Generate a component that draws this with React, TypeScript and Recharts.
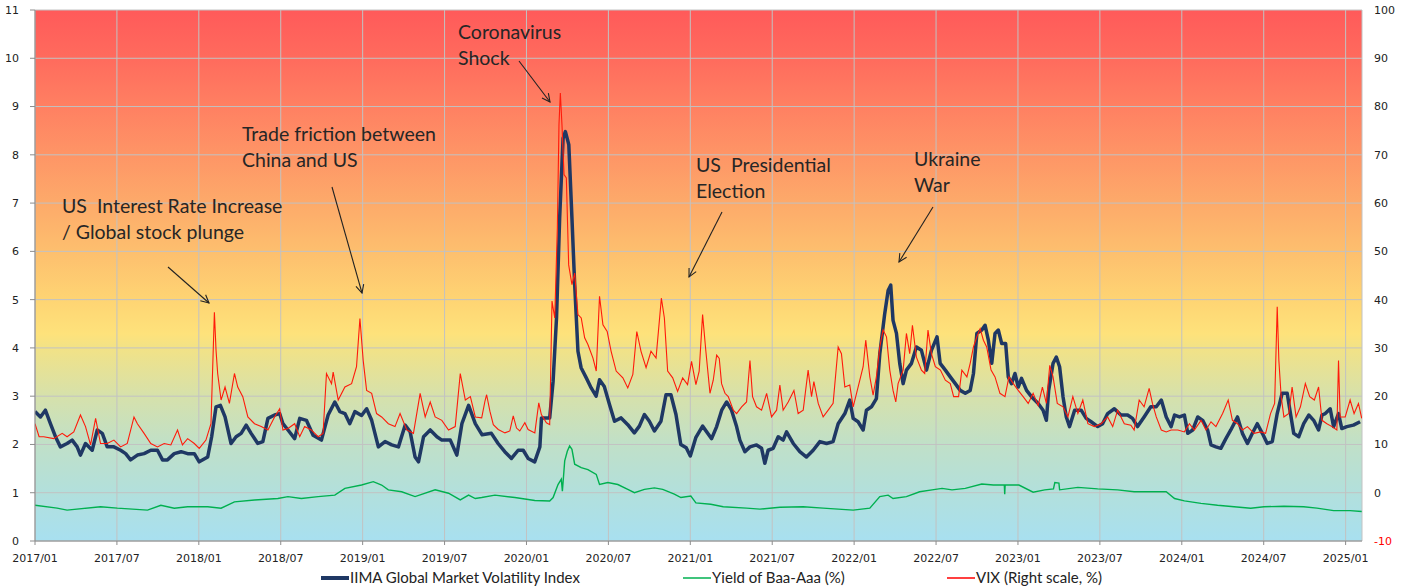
import React from 'react';
import { LineChart, Line, XAxis, YAxis, CartesianGrid } from 'recharts';

// ─── Data (x = months since 2017/01) ─────────────────

const iimaMonth = [
  0, 0.4, 0.76, 1.13, 1.5, 1.86, 2.35, 2.72, 3.09, 3.33, 3.7, 4.19, 4.56, 4.93, 5.29, 5.78, 6.27, 6.64, 7.0, 7.5,
  7.99, 8.48, 8.97, 9.34, 9.7, 10.2, 10.7, 11.18, 11.67, 12.03, 12.65, 12.94, 13.26, 13.58, 13.92, 14.36, 14.73, 15.1, 15.47, 15.83,
  16.32, 16.69, 17.06, 17.55, 17.92, 18.16, 18.53, 19.02, 19.39, 19.88, 20.37, 20.98, 21.47, 21.96, 22.33, 22.7, 23.06, 23.43, 23.92, 24.29,
  24.66, 25.15, 25.64, 26.13, 26.62, 27.11, 27.48, 27.84, 28.09, 28.46, 28.95, 29.44, 29.8, 30.42, 30.9, 31.27, 31.76, 32.25, 32.75, 33.43,
  33.92, 34.41, 34.9, 35.39, 35.76, 36.12, 36.6, 36.98, 37.1, 37.7, 37.95, 38.2, 38.43, 38.68, 38.85, 39.1, 39.33, 39.53, 39.77, 40.0,
  40.38, 40.74, 41.1, 41.35, 41.7, 42.08, 42.45, 42.93, 43.42, 43.9, 44.27, 44.64, 45.0, 45.37, 45.85, 46.22, 46.58, 46.95, 47.3, 47.7,
  48.0, 48.4, 48.9, 49.56, 49.93, 50.3, 50.66, 51.02, 51.39, 51.63, 52.0, 52.37, 52.85, 53.22, 53.46, 53.7, 54.07, 54.44, 54.8, 55.05,
  55.54, 56.02, 56.51, 57.0, 57.49, 57.98, 58.46, 58.83, 59.32, 59.68, 59.93, 60.29, 60.66, 60.9, 61.27, 61.63, 61.88, 62.24, 62.49, 62.68,
  62.85, 63.1, 63.34, 63.59, 63.83, 64.2, 64.56, 64.93, 65.3, 65.66, 66.07, 66.3, 66.68, 67.04, 67.41, 67.77, 68.14, 68.5, 68.74, 68.99,
  69.35, 69.59, 69.83, 70.08, 70.32, 70.56, 70.81, 71.1, 71.29, 71.53, 71.78, 72.02, 72.26, 72.63, 72.99, 73.48, 73.84, 74.08, 74.25, 74.57,
  74.81, 75.05, 75.3, 75.54, 75.78, 76.15, 76.63, 77.0, 77.36, 77.84, 78.2, 78.57, 79.06, 79.54, 80.03, 80.39, 80.76, 81.24, 81.73, 82.13,
  82.5, 82.86, 83.22, 83.47, 83.83, 84.19, 84.44, 84.8, 85.17, 85.53, 85.89, 86.14, 86.5, 86.86, 87.23, 87.59, 88.08, 88.44, 88.81, 89.17,
  89.53, 89.9, 90.26, 90.63, 90.99, 91.35, 91.72, 91.96, 92.2, 92.57, 92.93, 93.3, 93.66, 94.02, 94.27, 94.51, 94.87, 95.12, 95.48, 95.72,
  96.09, 96.57, 97.06,
];
const iimaValue = [
  2.68, 2.57, 2.71, 2.43, 2.16, 1.95, 2.02, 2.09, 1.95, 1.78, 2.02, 1.88, 2.3, 2.23, 1.95, 1.95, 1.88, 1.81, 1.68, 1.78,
  1.81, 1.88, 1.88, 1.68, 1.68, 1.81, 1.85, 1.81, 1.81, 1.64, 1.74, 2.16, 2.78, 2.81, 2.57, 2.02, 2.16, 2.23, 2.4, 2.23,
  2.02, 2.06, 2.54, 2.61, 2.64, 2.43, 2.3, 2.12, 2.54, 2.5, 2.19, 2.09, 2.61, 2.88, 2.68, 2.64, 2.43, 2.68, 2.6, 2.74,
  2.5, 1.95, 2.06, 1.99, 1.95, 2.4, 2.26, 1.74, 1.64, 2.16, 2.3, 2.16, 2.09, 2.09, 1.78, 2.43, 2.81, 2.43, 2.2, 2.23,
  2.02, 1.85, 1.71, 1.88, 1.88, 1.71, 1.64, 1.95, 2.55, 2.55, 3.31, 4.62, 6.69, 8.34, 8.48, 8.21, 6.69, 5.31, 3.93, 3.59,
  3.38, 3.17, 3.0, 3.34, 3.2, 2.83, 2.48, 2.55, 2.41, 2.24, 2.38, 2.62, 2.48, 2.28, 2.48, 3.03, 3.03, 2.62, 2.0, 1.93,
  1.76, 2.14, 2.38, 2.12, 2.37, 2.71, 2.88, 2.71, 2.37, 2.09, 1.85, 1.95, 1.99, 1.92, 1.61, 1.88, 1.92, 2.16, 2.09, 2.26,
  2.02, 1.85, 1.74, 1.88, 2.06, 2.02, 2.06, 2.43, 2.64, 2.92, 2.54, 2.47, 2.3, 2.71, 2.78, 2.95, 3.88, 4.71, 5.19, 5.3,
  4.57, 4.3, 3.68, 3.26, 3.54, 3.68, 4.02, 3.95, 3.54, 3.95, 4.23, 3.68, 3.54, 3.4, 3.26, 3.12, 3.06, 3.12, 3.47, 4.3,
  4.37, 4.47, 4.16, 3.68, 4.3, 4.37, 4.09, 4.09, 3.4, 3.26, 3.47, 3.19, 3.37, 3.12, 2.99, 2.85, 2.71, 2.5, 3.12, 3.68,
  3.81, 3.61, 2.99, 2.57, 2.37, 2.71, 2.71, 2.54, 2.47, 2.37, 2.43, 2.64, 2.74, 2.61, 2.61, 2.54, 2.37, 2.57, 2.78, 2.78,
  2.92, 2.57, 2.37, 2.61, 2.57, 2.61, 2.23, 2.3, 2.57, 2.5, 2.3, 1.99, 1.95, 1.92, 2.12, 2.3, 2.57, 2.23, 2.02, 2.23,
  2.43, 2.23, 2.02, 2.06, 2.64, 3.06, 3.06, 2.64, 2.23, 2.16, 2.43, 2.61, 2.5, 2.3, 2.61, 2.64, 2.74, 2.37, 2.64, 2.33,
  2.37, 2.4, 2.47,
];

const baaMonth = [
  0, 1.62, 2.35, 4.8, 6.03, 8.24, 9.22, 10.2, 11.18, 12.65, 13.63, 14.61, 16.08, 17.79, 18.53, 19.51, 20.74, 21.96, 22.7, 23.92,
  24.78, 25.39, 25.88, 26.86, 27.84, 29.31, 30.29, 31.15, 31.76, 32.25, 32.72, 33.69, 35.15, 36.61, 37.7, 37.95, 38.31, 38.55, 38.63, 38.8,
  38.99, 39.16, 39.33, 39.53, 40.01, 40.5, 41.11, 41.35, 41.96, 42.69, 43.42, 43.91, 44.64, 45.37, 45.98, 46.83, 47.31, 48.04, 48.41, 49.5,
  50.41, 52.12, 53.1, 54.56, 56.27, 57.73, 59.93, 61.15, 61.88, 62.49, 62.85, 63.83, 64.8, 65.71, 66.44, 67.17, 68.14, 69.35, 70.2, 71.0,
  71.03, 71.06, 72.07, 73.11, 73.96, 74.6, 74.7, 75.0, 75.05, 76.39, 77.84, 79.3, 80.51, 81.77, 82.86, 83.47, 84.19, 85.41, 86.62, 87.83,
  89.05, 90.02, 91.48, 92.93, 93.9, 95.12, 96.33, 97.18,
];
const baaValue = [
  0.74, 0.68, 0.64, 0.71, 0.68, 0.64, 0.74, 0.68, 0.71, 0.71, 0.68, 0.81, 0.85, 0.88, 0.92, 0.88, 0.92, 0.95, 1.09, 1.16,
  1.23, 1.16, 1.06, 1.02, 0.92, 1.06, 0.99, 0.85, 0.95, 0.88, 0.9, 0.95, 0.9, 0.84, 0.83, 0.9, 1.17, 1.28, 1.03, 1.66,
  1.86, 1.97, 1.9, 1.59, 1.52, 1.48, 1.38, 1.17, 1.21, 1.17, 1.07, 1.0, 1.07, 1.1, 1.07, 0.97, 0.9, 0.93, 0.79, 0.76,
  0.71, 0.68, 0.66, 0.7, 0.71, 0.68, 0.64, 0.68, 0.92, 0.95, 0.88, 0.92, 1.02, 1.06, 1.09, 1.06, 1.09, 1.18, 1.16, 1.16,
  0.97, 1.16, 1.16, 1.01, 1.06, 1.08, 1.21, 1.2, 1.06, 1.11, 1.08, 1.06, 1.02, 1.02, 1.02, 0.88, 0.83, 0.78, 0.74, 0.71,
  0.68, 0.71, 0.72, 0.71, 0.68, 0.63, 0.63, 0.61,
];

const vixMonth = [
  0, 0.3, 0.64, 1.37, 1.99, 2.35, 2.84, 3.33, 3.7, 4.07, 4.44, 4.8, 5.29, 5.78, 6.27, 6.76, 7.25, 7.5, 7.99, 8.48,
  8.97, 9.46, 9.95, 10.44, 10.8, 11.18, 11.67, 12.03, 12.52, 12.89, 13.14, 13.26, 13.38, 13.63, 13.92, 14.24, 14.61, 14.85, 15.22, 15.59,
  16.08, 16.57, 17.06, 17.55, 17.92, 18.16, 18.53, 19.02, 19.39, 19.75, 20.24, 20.74, 21.1, 21.35, 21.72, 21.84, 22.21, 22.7, 23.19, 23.55,
  23.8, 24.04, 24.29, 24.66, 25.02, 25.39, 25.88, 26.37, 26.74, 27.23, 27.72, 28.21, 28.58, 28.95, 29.31, 29.8, 30.29, 30.78, 31.15, 31.52,
  31.89, 32.25, 32.72, 32.96, 33.08, 33.32, 33.57, 33.93, 34.42, 34.78, 35.03, 35.27, 35.51, 35.88, 36.12, 36.61, 36.9, 37.09, 37.46, 37.7,
  37.87, 38.07, 38.26, 38.38, 38.48, 38.6, 38.75, 38.92, 39.09, 39.33, 39.53, 39.77, 40.01, 40.26, 40.5, 40.87, 41.11, 41.35, 41.6, 41.91,
  42.2, 42.57, 43.06, 43.42, 43.79, 44.08, 44.39, 44.76, 45.12, 45.49, 45.88, 46.1, 46.34, 46.71, 47.07, 47.44, 47.8, 48.09, 48.41, 48.65,
  48.9, 49.14, 49.44, 49.68, 49.93, 50.12, 50.29, 50.54, 50.78, 51.15, 51.39, 51.76, 52.12, 52.37, 52.56, 52.85, 53.22, 53.59, 53.95, 54.32,
  54.56, 54.8, 55.17, 55.59, 55.9, 56.27, 56.63, 56.88, 57.05, 57.37, 57.73, 58.1, 58.46, 58.83, 59.07, 59.32, 59.68, 59.93, 60.29, 60.66,
  60.85, 61.15, 61.39, 61.63, 61.88, 62.12, 62.37, 62.61, 62.85, 63.05, 63.22, 63.59, 63.83, 64.07, 64.27, 64.56, 64.93, 65.17, 65.41, 65.66,
  65.95, 66.32, 66.68, 67.04, 67.29, 67.65, 67.89, 68.26, 68.5, 68.74, 68.99, 69.23, 69.47, 69.71, 70.03, 70.32, 70.68, 71.05, 71.34, 71.66,
  72.02, 72.38, 72.75, 73.11, 73.48, 73.79, 74.08, 74.33, 74.57, 74.88, 75.3, 75.66, 76.02, 76.39, 76.75, 77.12, 77.6, 78.09, 78.57, 78.94,
  79.3, 79.79, 80.27, 80.51, 80.88, 81.24, 81.61, 81.85, 82.13, 82.5, 82.86, 83.22, 83.71, 84.19, 84.56, 84.92, 85.41, 85.77, 86.14, 86.5,
  86.99, 87.4, 87.71, 88.08, 88.44, 88.81, 89.29, 89.78, 90.14, 90.5, 90.8, 90.99, 91.11, 91.28, 91.48, 91.84, 92.08, 92.37, 92.69, 93.05,
  93.37, 93.71, 94.02, 94.27, 94.63, 95.0, 95.36, 95.48, 95.6, 95.97, 96.33, 96.62, 96.94, 97.18,
];
const vixValue = [
  14.3, 11.6, 11.6, 11.2, 12.3, 11.6, 12.6, 16.1, 13.7, 9.9, 15.4, 10.2, 10.2, 10.9, 9.5, 10.2, 15.7, 14.3, 12.3, 10.2,
  9.5, 10.2, 9.9, 13.0, 9.9, 11.2, 10.2, 9.2, 10.9, 14.3, 37.4, 29.5, 24.7, 19.2, 21.9, 18.5, 24.7, 21.9, 19.9, 15.7,
  14.3, 13.7, 13.0, 15.7, 17.4, 13.0, 13.3, 14.3, 11.6, 13.7, 13.0, 11.6, 12.3, 24.7, 22.6, 25.0, 19.2, 21.9, 22.6, 26.1,
  36.1, 27.4, 21.2, 20.6, 16.4, 15.7, 14.3, 13.7, 16.4, 13.0, 12.3, 20.6, 15.7, 18.8, 15.7, 15.0, 13.0, 13.7, 24.7, 19.2,
  19.9, 15.7, 15.5, 19.0, 20.3, 16.9, 14.1, 13.1, 12.4, 12.8, 15.9, 13.4, 12.8, 14.5, 13.1, 12.4, 18.6, 16.2, 14.5, 14.1,
  39.7, 36.2, 54.8, 76.2, 82.8, 76.2, 65.9, 65.2, 47.2, 43.1, 45.5, 36.9, 36.2, 32.1, 30.7, 27.9, 25.2, 40.7, 34.8, 33.4,
  29.3, 25.2, 23.8, 21.7, 24.5, 33.4, 29.3, 25.9, 29.3, 27.9, 40.3, 36.2, 25.2, 23.8, 21.0, 23.8, 22.4, 27.2, 22.4, 25.2,
  36.9, 29.3, 20.6, 23.3, 28.5, 27.8, 22.6, 20.6, 19.9, 17.1, 16.4, 17.8, 18.8, 27.4, 19.9, 17.8, 17.1, 20.6, 15.7, 17.1,
  22.3, 17.1, 18.8, 21.2, 16.4, 17.1, 25.4, 19.9, 23.0, 18.5, 15.7, 17.1, 18.5, 30.2, 28.8, 21.9, 22.3, 17.8, 21.9, 26.1,
  31.6, 24.0, 20.2, 24.0, 30.2, 33.7, 32.3, 25.4, 21.2, 18.8, 22.6, 25.4, 33.0, 28.8, 34.7, 28.1, 25.4, 24.7, 33.7, 28.8,
  26.1, 25.4, 23.3, 22.6, 19.9, 19.9, 25.4, 24.0, 26.8, 30.2, 32.3, 34.0, 31.6, 30.2, 25.4, 24.0, 20.6, 19.9, 24.0, 22.6,
  21.2, 19.9, 18.5, 20.6, 18.1, 21.9, 18.5, 26.4, 24.0, 18.5, 17.8, 15.7, 19.9, 16.4, 19.2, 14.3, 13.7, 14.3, 15.7, 13.7,
  17.1, 14.3, 14.0, 13.0, 19.2, 17.8, 21.6, 18.5, 15.7, 13.0, 12.6, 13.0, 13.0, 12.6, 14.3, 13.0, 15.0, 13.0, 14.7, 13.7,
  16.4, 19.2, 15.0, 14.3, 13.0, 13.7, 12.3, 12.6, 12.3, 16.4, 18.5, 38.5, 27.4, 19.9, 15.7, 16.4, 21.9, 15.7, 17.8, 22.6,
  19.9, 19.2, 21.9, 15.0, 14.3, 13.7, 13.0, 27.4, 15.7, 15.7, 19.2, 16.4, 18.5, 15.4,
];

const xTicks = [0, 6, 12, 18, 24, 30, 36, 42, 48, 54, 60, 66, 72, 78, 84, 90, 96];
const leftTicks = [0, 1, 2, 3, 4, 5, 6, 7, 8, 9, 10, 11];
const rightTicks = [-10, 0, 10, 20, 30, 40, 50, 60, 70, 80, 90, 100];

const seriesNames = ['IIMA Global Market Volatility Index', 'Yield of Baa-Aaa (%)', 'VIX (Right scale, %)'];

const annotations = [
  { lines: ['US  Interest Rate Increase', '/ Global stock plunge'], x: 62, y: 213, from: [168, 267], to: [209, 303] },
  { lines: ['Trade friction between', 'China and US'], x: 242, y: 141, from: [332, 187], to: [362, 293] },
  { lines: ['Coronavirus', 'Shock'], x: 458, y: 39, from: [519, 61], to: [550, 102] },
  { lines: ['US  Presidential', 'Election'], x: 696, y: 172, from: [722, 212], to: [689, 277] },
  { lines: ['Ukraine', 'War'], x: 914, y: 166, from: [933, 207], to: [899, 262] },
];

// ─── Helpers ─────────────────────────────

const zip = (xs: number[], ys: number[]) => xs.map((m, i) => ({ m, v: ys[i] }));
const iimaData = zip(iimaMonth, iimaValue);
const baaData = zip(baaMonth, baaValue);
const vixData = zip(vixMonth, vixValue);

const monthLabel = (m: number) => `${2017 + Math.floor(m / 12)}/${m % 12 === 0 ? '01' : '07'}`;

const TICK_FONT = "'DejaVu Sans', sans-serif";
const TEXT_FONT = "Lato, 'Open Sans', sans-serif";

function RightTick(props: any) {
  const { x, y, payload } = props;
  const v = payload.value;
  return (
    <text x={x} y={y} dy="0.355em" textAnchor="start" fontSize={11} fontFamily={TICK_FONT}
      fill={v < 0 ? '#ff0000' : '#222'}>
      {v}
    </text>
  );
}

// ─── Component ───────────────────────────

export default function App() {
  const legendItems = [
    { name: seriesNames[0], color: '#1f3864', width: 4, x: 321 },
    { name: seriesNames[1], color: '#00b050', width: 1.5, x: 683 },
    { name: seriesNames[2], color: '#ff0000', width: 1.5, x: 947 },
  ];

  return (
    <div style={{ position: 'relative', width: 1411, height: 588, background: '#fff' }}>
      <style>{'body{margin:0}'}</style>
      <svg width={0} height={0} style={{ position: 'absolute' }}>
        <defs>
          <linearGradient id="bgGrad" x1="0" y1="0" x2="0" y2="1">
            <stop offset="0" stopColor="#ff5a5a" />
            <stop offset="0.091" stopColor="#ff6b5d" />
            <stop offset="0.182" stopColor="#ff8062" />
            <stop offset="0.273" stopColor="#fe9566" />
            <stop offset="0.364" stopColor="#fdaa6a" />
            <stop offset="0.455" stopColor="#fdbf6e" />
            <stop offset="0.545" stopColor="#fed473" />
            <stop offset="0.61" stopColor="#fee27b" />
            <stop offset="0.636" stopColor="#f2e286" />
            <stop offset="0.727" stopColor="#d6e1ab" />
            <stop offset="0.818" stopColor="#c0e0c8" />
            <stop offset="0.909" stopColor="#b2e0dc" />
            <stop offset="1" stopColor="#a8e0f0" />
          </linearGradient>
        </defs>
      </svg>

      <LineChart width={1411} height={588} margin={{ top: 10, right: 0, bottom: 0, left: 0 }}>
        <CartesianGrid
          xAxisId="x"
          yAxisId="left"
          stroke="#c2c2c2"
          fill="url(#bgGrad)"
          fillOpacity={1}
        />
        <XAxis
          xAxisId="x"
          dataKey="m"
          type="number"
          domain={[0, 97.2]}
          ticks={xTicks}
          tickFormatter={monthLabel}
          allowDataOverflow
          height={47}
          tickSize={4}
          tickMargin={9}
          stroke="#8c8c8c"
          tick={{ fontSize: 11, fontFamily: TICK_FONT, fill: '#222' }}
        />
        <YAxis
          yAxisId="left"
          orientation="left"
          domain={[0, 11]}
          ticks={leftTicks}
          width={35}
          tickSize={5}
          tickMargin={11}
          stroke="#8c8c8c"
          tick={{ fontSize: 11, fontFamily: TICK_FONT, fill: '#222' }}
        />
        <YAxis
          yAxisId="right"
          orientation="right"
          domain={[-10, 100]}
          ticks={rightTicks}
          width={49}
          axisLine={false}
          tickLine={false}
          tickSize={0}
          tickMargin={12}
          tick={<RightTick />}
        />
        <Line
          data={iimaData}
          xAxisId="x"
          yAxisId="left"
          dataKey="v"
          name={seriesNames[0]}
          type="linear"
          stroke="#1f3864"
          strokeWidth={3.5}
          strokeLinejoin="round"
          dot={false}
          isAnimationActive={false}
        />
        <Line
          data={baaData}
          xAxisId="x"
          yAxisId="left"
          dataKey="v"
          name={seriesNames[1]}
          type="linear"
          stroke="#00b050"
          strokeWidth={1.4}
          dot={false}
          isAnimationActive={false}
        />
        <Line
          data={vixData}
          xAxisId="x"
          yAxisId="right"
          dataKey="v"
          name={seriesNames[2]}
          type="linear"
          stroke="#ff1a0a"
          strokeWidth={1.1}
          dot={false}
          isAnimationActive={false}
        />
      </LineChart>

      {/* Event annotations */}
      <svg width={1411} height={588} style={{ position: 'absolute', left: 0, top: 0, pointerEvents: 'none' }}>
        <defs>
          <marker id="arrowHead" markerWidth="10" markerHeight="10" refX="9" refY="5" orient="auto" markerUnits="userSpaceOnUse">
            <path d="M1,1 L9,5 L1,9" fill="none" stroke="#222" strokeWidth={1.1} />
          </marker>
        </defs>
        {annotations.map((a) => (
          <g key={a.lines[0]}>
            {a.lines.map((t, i) => (
              <text key={t} x={a.x} y={a.y + i * 26} fontSize={19.5} fontFamily={TEXT_FONT}
                fill="#262626" style={{ whiteSpace: 'pre' }}>
                {t}
              </text>
            ))}
            <line x1={a.from[0]} y1={a.from[1]} x2={a.to[0]} y2={a.to[1]}
              stroke="#222" strokeWidth={1.1} markerEnd="url(#arrowHead)" />
          </g>
        ))}

        {/* Legend */}
        {legendItems.map((l) => (
          <g key={l.name}>
            <line x1={l.x} y1={578} x2={l.x + 28} y2={578} stroke={l.color} strokeWidth={l.width} />
            <text x={l.x + 29} y={578} dy="0.35em" fontSize={15} fontFamily={TEXT_FONT} fill="#222">
              {l.name}
            </text>
          </g>
        ))}
      </svg>
    </div>
  );
}
